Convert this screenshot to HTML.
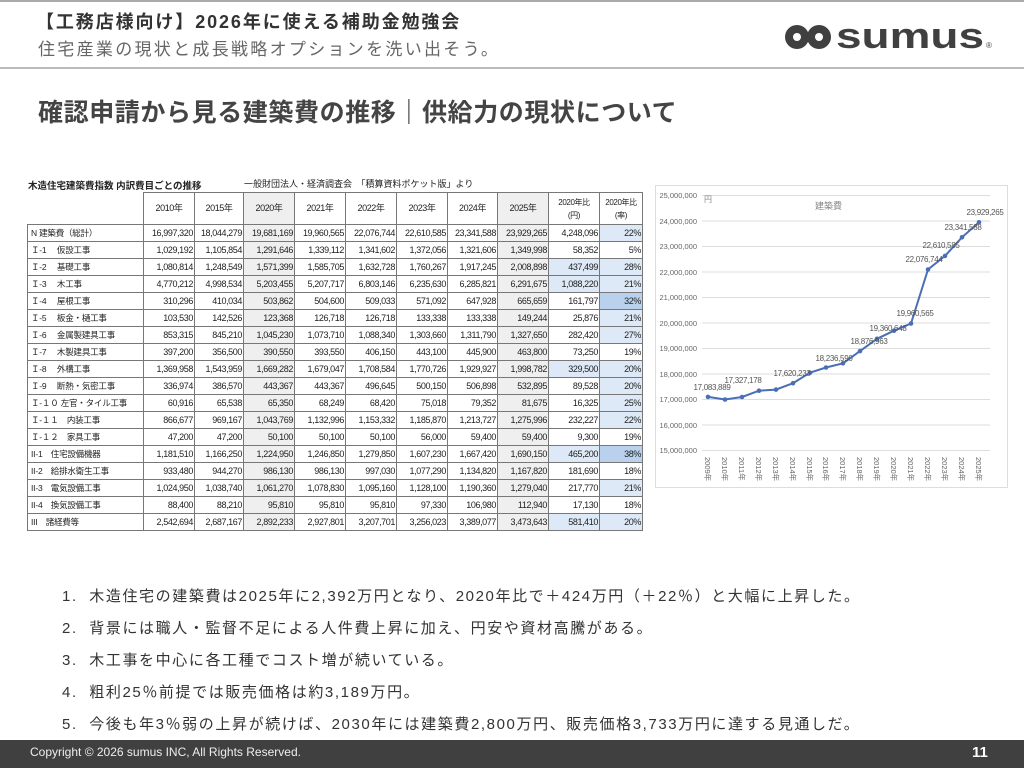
<!DOCTYPE html>
<html><head><meta charset="utf-8">
<style>
*{margin:0;padding:0;box-sizing:border-box}
body{width:1024px;height:768px;position:relative;background:#fff;font-family:"Liberation Sans","Noto Sans CJK JP",sans-serif;overflow:hidden;color:#333}
.abs{position:absolute;white-space:nowrap}
table{position:absolute;left:27px;top:192px;width:615px;border-collapse:collapse;font-size:9px;color:#222;table-layout:fixed}
td{border:1px solid #777;height:17px;text-align:right;padding:0 1px;line-height:15px;font-family:"Liberation Sans","Noto Sans CJK JP",sans-serif;letter-spacing:-0.4px;overflow:hidden;white-space:nowrap}
td.l{text-align:left;font-size:8.5px;padding-left:3px;letter-spacing:-0.2px}
tr.h td{height:32px;text-align:center;font-size:9px}
.g{background:#efefef}
.b{background:#dde9f6}
.d{background:#b9d1ec}
</style></head><body>
<div class="abs" style="left:0;top:0;width:1024px;height:2px;background:#aaa"></div>
<div class="abs" style="left:36px;top:8px;font-size:18px;font-weight:bold;color:#333;letter-spacing:1.9px">【工務店様向け】2026年に使える補助金勉強会</div>
<div class="abs" style="left:38px;top:35px;font-size:17px;color:#666;letter-spacing:2.3px">住宅産業の現状と成長戦略オプションを洗い出そう。</div>
<div class="abs" style="left:0;top:67px;width:1024px;height:2px;background:#bbb"></div>
<svg class="abs" style="left:780px;top:18px" width="220" height="36">
<circle cx="17" cy="19" r="12" fill="#404040"/><circle cx="17" cy="19" r="4" fill="#fff"/>
<circle cx="39" cy="19" r="12" fill="#404040"/><circle cx="39" cy="19" r="4" fill="#fff"/>
<text x="56" y="30" font-family="Liberation Sans" font-weight="bold" font-size="36" fill="#404040" textLength="148" lengthAdjust="spacingAndGlyphs">sumus</text>
<text x="206" y="30" font-family="Liberation Sans" font-size="8" fill="#404040">®</text>
</svg>
<div class="abs" style="left:38px;top:93px;font-size:25px;font-weight:bold;color:#444;letter-spacing:0.6px">確認申請から見る建築費の推移｜供給力の現状について</div>

<div class="abs" style="left:28px;top:178px;font-size:9.5px;font-weight:bold;color:#222">木造住宅建築費指数 内訳費目ごとの推移</div>
<div class="abs" style="left:244px;top:177px;font-size:9px;color:#222">一般財団法人・経済調査会　「積算資料ポケット版」より</div>
<table>
<colgroup><col style="width:116px"><col style="width:51px"><col style="width:49px"><col style="width:51px"><col style="width:51px"><col style="width:51px"><col style="width:51px"><col style="width:50px"><col style="width:51px"><col style="width:51px"><col style="width:43px"></colgroup>
<tr class="h"><td style="border-top:none;border-left:none"></td><td>2010年</td><td>2015年</td><td class="g">2020年</td><td>2021年</td><td>2022年</td><td>2023年</td><td>2024年</td><td class="g">2025年</td><td style="font-size:8px;line-height:13px">2020年比<br>(円)</td><td style="font-size:8px;line-height:13px">2020年比<br>(率)</td></tr>
<tr><td class="l">N 建築費（総計）</td><td>16,997,320</td><td>18,044,279</td><td class="g">19,681,169</td><td>19,960,565</td><td>22,076,744</td><td>22,610,585</td><td>23,341,588</td><td class="g">23,929,265</td><td>4,248,096</td><td class="b">22%</td></tr>
<tr><td class="l">Ｉ-1　 仮設工事</td><td>1,029,192</td><td>1,105,854</td><td class="g">1,291,646</td><td>1,339,112</td><td>1,341,602</td><td>1,372,056</td><td>1,321,606</td><td class="g">1,349,998</td><td>58,352</td><td>5%</td></tr>
<tr><td class="l">Ｉ-2　 基礎工事</td><td>1,080,814</td><td>1,248,549</td><td class="g">1,571,399</td><td>1,585,705</td><td>1,632,728</td><td>1,760,267</td><td>1,917,245</td><td class="g">2,008,898</td><td class="b">437,499</td><td class="b">28%</td></tr>
<tr><td class="l">Ｉ-3　 木工事</td><td>4,770,212</td><td>4,998,534</td><td class="g">5,203,455</td><td>5,207,717</td><td>6,803,146</td><td>6,235,630</td><td>6,285,821</td><td class="g">6,291,675</td><td class="b">1,088,220</td><td class="b">21%</td></tr>
<tr><td class="l">Ｉ-4　 屋根工事</td><td>310,296</td><td>410,034</td><td class="g">503,862</td><td>504,600</td><td>509,033</td><td>571,092</td><td>647,928</td><td class="g">665,659</td><td>161,797</td><td class="d">32%</td></tr>
<tr><td class="l">Ｉ-5　 板金・樋工事</td><td>103,530</td><td>142,526</td><td class="g">123,368</td><td>126,718</td><td>126,718</td><td>133,338</td><td>133,338</td><td class="g">149,244</td><td>25,876</td><td class="b">21%</td></tr>
<tr><td class="l">Ｉ-6　 金属製建具工事</td><td>853,315</td><td>845,210</td><td class="g">1,045,230</td><td>1,073,710</td><td>1,088,340</td><td>1,303,660</td><td>1,311,790</td><td class="g">1,327,650</td><td>282,420</td><td class="b">27%</td></tr>
<tr><td class="l">Ｉ-7　 木製建具工事</td><td>397,200</td><td>356,500</td><td class="g">390,550</td><td>393,550</td><td>406,150</td><td>443,100</td><td>445,900</td><td class="g">463,800</td><td>73,250</td><td>19%</td></tr>
<tr><td class="l">Ｉ-8　 外構工事</td><td>1,369,958</td><td>1,543,959</td><td class="g">1,669,282</td><td>1,679,047</td><td>1,708,584</td><td>1,770,726</td><td>1,929,927</td><td class="g">1,998,782</td><td class="b">329,500</td><td class="b">20%</td></tr>
<tr><td class="l">Ｉ-9　 断熱・気密工事</td><td>336,974</td><td>386,570</td><td class="g">443,367</td><td>443,367</td><td>496,645</td><td>500,150</td><td>506,898</td><td class="g">532,895</td><td>89,528</td><td class="b">20%</td></tr>
<tr><td class="l">Ｉ-１０ 左官・タイル工事</td><td>60,916</td><td>65,538</td><td class="g">65,350</td><td>68,249</td><td>68,420</td><td>75,018</td><td>79,352</td><td class="g">81,675</td><td>16,325</td><td class="b">25%</td></tr>
<tr><td class="l">Ｉ-１１　内装工事</td><td>866,677</td><td>969,167</td><td class="g">1,043,769</td><td>1,132,996</td><td>1,153,332</td><td>1,185,870</td><td>1,213,727</td><td class="g">1,275,996</td><td>232,227</td><td class="b">22%</td></tr>
<tr><td class="l">Ｉ-１２　家具工事</td><td>47,200</td><td>47,200</td><td class="g">50,100</td><td>50,100</td><td>50,100</td><td>56,000</td><td>59,400</td><td class="g">59,400</td><td>9,300</td><td>19%</td></tr>
<tr><td class="l">II-1　住宅設備機器</td><td>1,181,510</td><td>1,166,250</td><td class="g">1,224,950</td><td>1,246,850</td><td>1,279,850</td><td>1,607,230</td><td>1,667,420</td><td class="g">1,690,150</td><td class="b">465,200</td><td class="d">38%</td></tr>
<tr><td class="l">II-2　給排水衛生工事</td><td>933,480</td><td>944,270</td><td class="g">986,130</td><td>986,130</td><td>997,030</td><td>1,077,290</td><td>1,134,820</td><td class="g">1,167,820</td><td>181,690</td><td>18%</td></tr>
<tr><td class="l">II-3　電気設備工事</td><td>1,024,950</td><td>1,038,740</td><td class="g">1,061,270</td><td>1,078,830</td><td>1,095,160</td><td>1,128,100</td><td>1,190,360</td><td class="g">1,279,040</td><td>217,770</td><td class="b">21%</td></tr>
<tr><td class="l">II-4　換気設備工事</td><td>88,400</td><td>88,210</td><td class="g">95,810</td><td>95,810</td><td>95,810</td><td>97,330</td><td>106,980</td><td class="g">112,940</td><td>17,130</td><td>18%</td></tr>
<tr><td class="l">III　諸経費等</td><td>2,542,694</td><td>2,687,167</td><td class="g">2,892,233</td><td>2,927,801</td><td>3,207,701</td><td>3,256,023</td><td>3,389,077</td><td class="g">3,473,643</td><td class="b">581,410</td><td class="b">20%</td></tr>
</table>

<svg class="abs" style="left:0;top:0" width="1024" height="768">
<rect x="655.5" y="185.5" width="352" height="302" fill="#fff" stroke="#ddd"/>
<g stroke="#ddd" stroke-width="1">
<line x1="702" x2="990" y1="195.5" y2="195.5"/><line x1="702" x2="990" y1="221" y2="221"/><line x1="702" x2="990" y1="246.5" y2="246.5"/><line x1="702" x2="990" y1="272" y2="272"/><line x1="702" x2="990" y1="297.5" y2="297.5"/><line x1="702" x2="990" y1="323" y2="323"/><line x1="702" x2="990" y1="348.5" y2="348.5"/><line x1="702" x2="990" y1="374" y2="374"/><line x1="702" x2="990" y1="399.5" y2="399.5"/><line x1="702" x2="990" y1="425" y2="425"/><line x1="702" x2="990" y1="450.5" y2="450.5"/>
</g>
<g font-family="Liberation Sans" font-size="7.5" fill="#666" text-anchor="end">
<text x="697" y="198">25,000,000</text><text x="697" y="224">24,000,000</text><text x="697" y="249">23,000,000</text><text x="697" y="275">22,000,000</text><text x="697" y="300">21,000,000</text><text x="697" y="326">20,000,000</text><text x="697" y="351">19,000,000</text><text x="697" y="377">18,000,000</text><text x="697" y="402">17,000,000</text><text x="697" y="428">16,000,000</text><text x="697" y="453">15,000,000</text>
</g>
<text x="704" y="202" font-family="Liberation Sans,Noto Sans CJK JP,sans-serif" font-size="8" fill="#888">円</text>
<text x="815" y="209" font-family="Liberation Sans,Noto Sans CJK JP,sans-serif" font-size="9" fill="#888">建築費</text>
<polyline fill="none" stroke="#4a6fb5" stroke-width="2" points="708,396.9 725,399.5 742,397 759,390.7 776,389.6 793,383.2 810,372.7 826,367.5 843,363.3 860,351.1 877,338.8 894,330.7 911,323.5 928,269.5 945,255.9 962,237.3 979,222.3"/>
<g fill="#4a6fb5">
<circle cx="708" cy="396.9" r="2.3"/><circle cx="725" cy="399.5" r="2.3"/><circle cx="742" cy="397" r="2.3"/><circle cx="759" cy="390.7" r="2.3"/><circle cx="776" cy="389.6" r="2.3"/><circle cx="793" cy="383.2" r="2.3"/><circle cx="810" cy="372.7" r="2.3"/><circle cx="826" cy="367.5" r="2.3"/><circle cx="843" cy="363.3" r="2.3"/><circle cx="860" cy="351.1" r="2.3"/><circle cx="877" cy="338.8" r="2.3"/><circle cx="894" cy="330.7" r="2.3"/><circle cx="911" cy="323.5" r="2.3"/><circle cx="928" cy="269.5" r="2.3"/><circle cx="945" cy="255.9" r="2.3"/><circle cx="962" cy="237.3" r="2.3"/><circle cx="979" cy="222.3" r="2.3"/>
</g>
<g font-family="Liberation Sans" font-size="8" fill="#555" text-anchor="middle" letter-spacing="-0.3">
<text x="712" y="390">17,083,889</text><text x="743" y="383">17,327,178</text><text x="792" y="376">17,620,233</text><text x="834" y="361">18,236,590</text><text x="869" y="344">18,876,963</text><text x="888" y="331">19,360,648</text><text x="915" y="316">19,960,565</text><text x="924" y="262">22,076,744</text><text x="941" y="248">22,610,585</text><text x="963" y="230">23,341,588</text><text x="985" y="215">23,929,265</text>
</g>
<g font-family="Liberation Sans,Noto Sans CJK JP,sans-serif" font-size="7.5" fill="#666">
<text transform="translate(705,457) rotate(90)">2009年</text><text transform="translate(722,457) rotate(90)">2010年</text><text transform="translate(739,457) rotate(90)">2011年</text><text transform="translate(756,457) rotate(90)">2012年</text><text transform="translate(773,457) rotate(90)">2013年</text><text transform="translate(790,457) rotate(90)">2014年</text><text transform="translate(807,457) rotate(90)">2015年</text><text transform="translate(823,457) rotate(90)">2016年</text><text transform="translate(840,457) rotate(90)">2017年</text><text transform="translate(857,457) rotate(90)">2018年</text><text transform="translate(874,457) rotate(90)">2019年</text><text transform="translate(891,457) rotate(90)">2020年</text><text transform="translate(908,457) rotate(90)">2021年</text><text transform="translate(925,457) rotate(90)">2022年</text><text transform="translate(942,457) rotate(90)">2023年</text><text transform="translate(959,457) rotate(90)">2024年</text><text transform="translate(976,457) rotate(90)">2025年</text>
</g>
</svg>

<div class="abs" style="left:62px;top:581px;font-size:15px;color:#333;line-height:32px;letter-spacing:1.6px">
1.&nbsp; 木造住宅の建築費は2025年に2,392万円となり、2020年比で＋424万円（＋22％）と大幅に上昇した。<br>
2.&nbsp; 背景には職人・監督不足による人件費上昇に加え、円安や資材高騰がある。<br>
3.&nbsp; 木工事を中心に各工種でコスト増が続いている。<br>
4.&nbsp; 粗利25％前提では販売価格は約3,189万円。<br>
5.&nbsp; 今後も年3％弱の上昇が続けば、2030年には建築費2,800万円、販売価格3,733万円に達する見通しだ。
</div>

<div class="abs" style="left:0;top:740px;width:1024px;height:28px;background:#404040"></div>
<div class="abs" style="left:30px;top:745px;font-size:12px;color:#eee">Copyright © 2026 sumus INC, All Rights Reserved.</div>
<div class="abs" style="left:972px;top:744px;font-size:15px;font-weight:bold;color:#fff">11</div>
</body></html>
